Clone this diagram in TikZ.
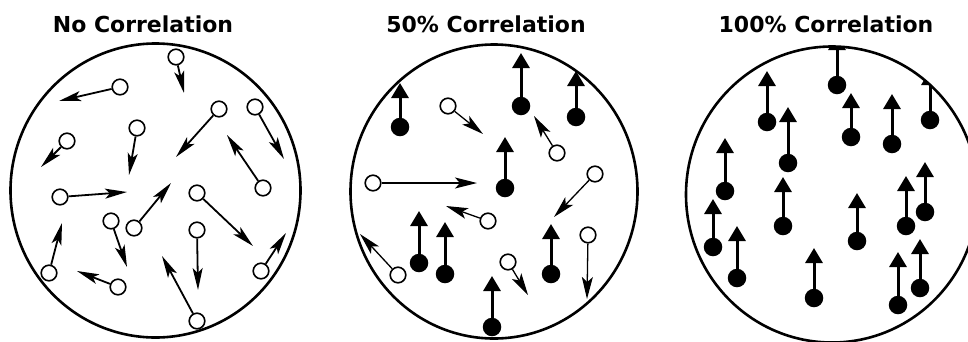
\documentclass[tikz,border=0pt]{standalone}
\usepackage{fontspec}
\newfontfamily\ttlfont{DejaVu Sans}
\usetikzlibrary{arrows.meta}
\tikzset{
  ring/.style={line width=2.6pt},
  openball/.style={circle, draw, fill=white, line width=1.6pt, minimum size=15.6pt, inner sep=0pt},
  fullball/.style={circle, fill=black, minimum size=18.5pt, inner sep=0pt},
  randarrow/.style={line width=1.8pt, -{Stealth[length=22pt,width=10pt,inset=5pt]}},
  thinarrow/.style={line width=1.3pt, -{Stealth[length=22pt,width=11pt,inset=5pt]}},
  uparrow/.style={line width=3pt, -{Triangle[length=15pt,width=17pt]}},
  title/.style={anchor=base, font=\ttlfont\bfseries\fontsize{22}{26}\selectfont, inner sep=0pt},
}
\begin{document}
\begin{tikzpicture}[x=1pt,y=-1pt]
\fill[white] (0,0) rectangle (968,341);
\useasboundingbox (0,0) rectangle (968,341);

% titles
\node[title] (t1) at (143,32.5) {No Correlation};
\node[title] (t2) at (486,32.5) {50\% Correlation};
\node[title] (t3) at (826,32.5) {100\% Correlation};

% ---------- circle 1 : no correlation ----------
\draw[ring] (155.5,190.5) ellipse [x radius=145, y radius=147];
\foreach \bx/\by/\tx/\ty [count=\i] in {
  176/57/184/93, 120/87/59/101, 219/109/176/157, 255/107/284/159,
  67/141/41/167, 137/128/129/175, 263/188/227/135, 60/197/127/192,
  197/193/253/246, 134/228/171/183, 111/221/127/267, 197/230/198/290,
  49/273/62/223, 118/287/77/271, 197/321/162/256, 261/271/286/233}{
  \node[openball] (a\i) at (\bx,\by) {};
  \coordinate (ta\i) at (\tx,\ty);
  \draw[randarrow] (a\i) -- (ta\i);
}

% ---------- circle 2 : 50% correlation ----------
\draw[ring] (494,191.5) ellipse [x radius=143.5, y radius=147];
\foreach \bx/\by/\tx/\ty [count=\i] in {
  400/127/400/83, 521/106/521/53, 576/117/576/71, 505/188/505/137,
  419/263/419/211, 445/274/445/222, 551/274/551/224, 492/327/492/276}{
  \node[fullball] (b\i) at (\bx,\by) {};
  \coordinate (tb\i) at (\tx,\ty);
  \draw[uparrow] (b\i) -- (tb\i);
}
\foreach \bx/\by/\tx/\ty [count=\i] in {
  448/106/483/134, 557/153/534/116, 373/183/477/183, 595/174/554/217,
  488/221/446/206, 398/275/360/234, 508/262/528/295, 588/235/587/299}{
  \node[openball] (c\i) at (\bx,\by) {};
  \coordinate (tc\i) at (\tx,\ty);
  \draw[thinarrow] (c\i) -- (tc\i);
}

% ---------- circle 3 : 100% correlation ----------
\begin{scope}
\clip (832,194.5) ellipse [x radius=146, y radius=148];
\foreach \bx/\by/\tx/\ty [count=\i] in {
  837/85/837/35, 767/122/767/71, 788/163/788/107, 851/137/851/93,
  892/144/892/94, 930/120/930/70, 725/191/725/138, 713/247/713/199,
  737/278/737/226, 783/226/783/177, 857/241/857/193, 906/226/906/176,
  925/212/925/162, 814/298/814/248, 898/305/898/252, 920/288/920/239}{
  \node[fullball] (d\i) at (\bx,\by) {};
  \coordinate (td\i) at (\tx,\ty);
  \draw[uparrow] (d\i) -- (td\i);
}
\end{scope}
\draw[ring] (832,194.5) ellipse [x radius=146, y radius=148];
\end{tikzpicture}
\end{document}
